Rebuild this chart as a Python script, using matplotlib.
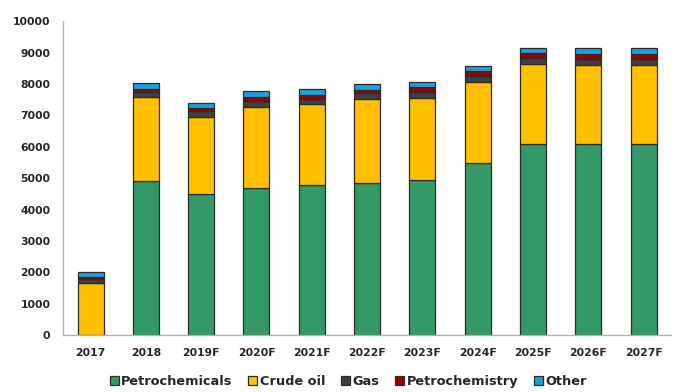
import matplotlib.pyplot as plt
import numpy as np

years = ['2017', '2018', '2019F', '2020F', '2021F', '2022F', '2023F',
         '2024F', '2025F', '2026F', '2027F']
petrochemicals = [0, 4900, 4500, 4700, 4780, 4850, 4930, 5480, 6080, 6080, 6080]
crude_oil = [1650, 2680, 2450, 2570, 2570, 2660, 2630, 2590, 2570, 2520, 2520]
gas = [130, 180, 180, 190, 180, 190, 190, 190, 180, 210, 210]
petrochemistry = [70, 90, 110, 130, 130, 110, 140, 150, 160, 160, 160]
other = [170, 190, 160, 180, 180, 180, 160, 170, 170, 190, 190]

series = [
    ('Petrochemicals', petrochemicals, '#339966'),
    ('Crude oil', crude_oil, '#FFC000'),
    ('Gas', gas, '#404040'),
    ('Petrochemistry', petrochemistry, '#A00000'),
    ('Other', other, '#1FA0DC'),
]

fig = plt.figure(figsize=(6.76, 3.92), dpi=100)
ax = fig.add_axes([0.093, 0.145, 0.900, 0.801])

x = np.arange(len(years))
bottom = np.zeros(len(years))
for name, vals, col in series:
    vals = np.array(vals, dtype=float)
    ax.bar(x, vals, 0.47, bottom=bottom, color=col, edgecolor='#2b2b2b',
           linewidth=0.9, label=name)
    bottom += vals

ax.set_xlim(-0.5, 10.5)
ax.set_ylim(0, 10000)
ax.set_yticks(range(0, 10001, 1000))
ax.set_xticks(x)
ax.set_xticklabels(years)
for lab in ax.get_xticklabels() + ax.get_yticklabels():
    lab.set_fontweight('bold')
    lab.set_fontsize(7.8)
    lab.set_color('#262626')
ax.tick_params(length=0)
ax.tick_params(axis='x', pad=9)
ax.tick_params(axis='y', pad=9)

for s in ['top', 'right']:
    ax.spines[s].set_visible(False)
for s in ['left', 'bottom']:
    ax.spines[s].set_color('#b0b0b0')
    ax.spines[s].set_linewidth(1)

leg = fig.legend(loc='lower center', bbox_to_anchor=(0.515, -0.02), ncol=5,
                 frameon=False, handlelength=0.7, handleheight=0.7,
                 handletextpad=0.2, columnspacing=1.2,
                 prop={'weight': 'bold', 'size': 9.3})
for t in leg.get_texts():
    t.set_color('#262626')

fig.savefig('out.png', dpi=100)
